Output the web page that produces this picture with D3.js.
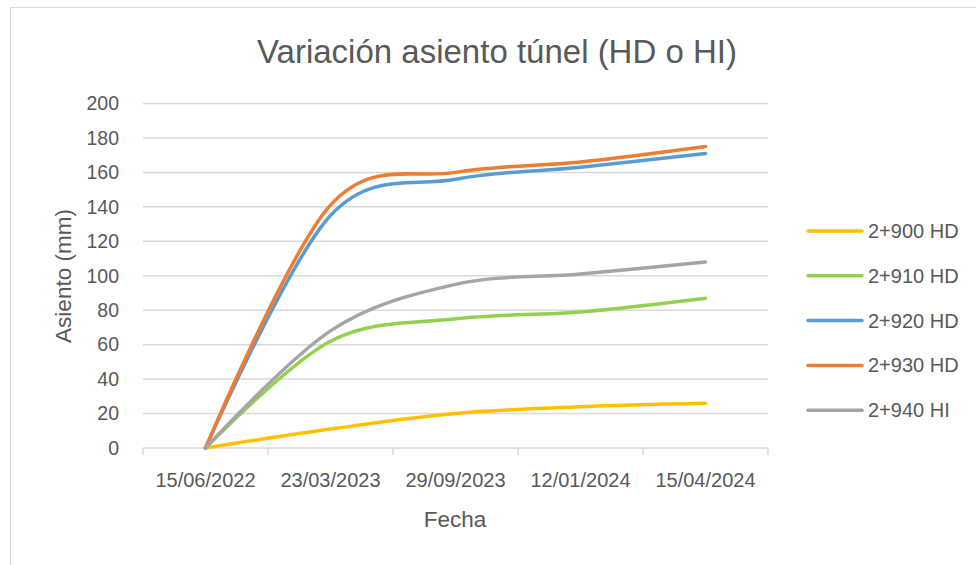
<!DOCTYPE html>
<meta charset="utf-8">
<style>
  body { margin: 0; background: #fff; font-family: "Liberation Sans", sans-serif; }
  text { fill: #595959; }
</style>
<body>
<script src="https://d3js.org/d3.v7.min.js"></script>
<div id="chart"></div>
<script>
  const fechas = ["15/06/2022", "23/03/2023", "29/09/2023", "12/01/2024", "15/04/2024"];
  const s2900 = [0, 11, 20, 24, 26];
  const s2910 = [0, 62, 75, 79, 87];
  const s2920 = [0, 135, 156, 163, 171];
  const s2930 = [0, 141, 160, 166, 175];
  const s2940 = [0, 68, 95, 101, 108];
  const yTicks = [0, 20, 40, 60, 80, 100, 120, 140, 160, 180, 200];

  const series = [
    { name: "2+900 HD", values: s2900, color: "#FFC000" },
    { name: "2+910 HD", values: s2910, color: "#92D050" },
    { name: "2+920 HD", values: s2920, color: "#5B9BD5" },
    { name: "2+930 HD", values: s2930, color: "#ED7D31" },
    { name: "2+940 HI", values: s2940, color: "#A5A5A5" }
  ];

  const W = 976, H = 565;
  const plot = { left: 143, right: 768, top: 103.5, bottom: 448 };

  const svg = d3.select("#chart").append("svg")
    .attr("width", W).attr("height", H);

  // chart frame
  svg.append("rect")
    .attr("x", 10.5).attr("y", 7.5).attr("width", 990).attr("height", 600)
    .attr("fill", "none").attr("stroke", "#d9d9d9");

  const x = d3.scaleBand().domain(fechas).range([plot.left, plot.right]);
  const y = d3.scaleLinear().domain([0, 200]).range([plot.bottom, plot.top]);

  // gridlines
  svg.append("g").selectAll("line")
    .data(yTicks.filter(d => d > 0))
    .join("line")
    .attr("x1", plot.left).attr("x2", plot.right)
    .attr("y1", d => y(d)).attr("y2", d => y(d))
    .attr("stroke", "#d9d9d9").attr("stroke-width", 1.5);

  // y labels
  svg.append("g").selectAll("text")
    .data(yTicks)
    .join("text")
    .attr("x", 119).attr("y", d => y(d))
    .attr("text-anchor", "end").attr("dy", "0.35em")
    .style("font-size", "19.5px")
    .text(d => d);

  // x axis
  const xAxis = svg.append("g");
  xAxis.append("line")
    .attr("x1", plot.left).attr("x2", plot.right)
    .attr("y1", plot.bottom).attr("y2", plot.bottom)
    .attr("stroke", "#d9d9d9").attr("stroke-width", 1.5);
  const bounds = fechas.map(d => x(d)).concat([plot.right]);
  xAxis.selectAll(".tick")
    .data(bounds)
    .join("line")
    .attr("x1", d => d).attr("x2", d => d)
    .attr("y1", plot.bottom).attr("y2", plot.bottom + 7)
    .attr("stroke", "#d9d9d9").attr("stroke-width", 1.5);
  xAxis.selectAll("text")
    .data(fechas)
    .join("text")
    .attr("x", d => x(d) + x.bandwidth() / 2)
    .attr("y", 487)
    .attr("text-anchor", "middle")
    .style("font-size", "20px")
    .text(d => d);

  // lines
  const line = d3.line()
    .x((d, i) => x(fechas[i]) + x.bandwidth() / 2)
    .y(d => y(d))
    .curve(d3.curveCardinal.tension(0));

  svg.append("g").selectAll("path")
    .data(series)
    .join("path")
    .attr("d", d => line(d.values))
    .attr("fill", "none")
    .attr("stroke", d => d.color)
    .attr("stroke-width", 3.5)
    .attr("stroke-linecap", "round")
    .attr("stroke-linejoin", "round");

  // titles
  svg.append("text")
    .attr("x", 497).attr("y", 63)
    .attr("text-anchor", "middle")
    .style("font-size", "33px")
    .text("Variación asiento túnel (HD o HI)");

  svg.append("text")
    .attr("x", 455).attr("y", 527)
    .attr("text-anchor", "middle")
    .style("font-size", "22.5px")
    .text("Fecha");

  svg.append("text")
    .attr("transform", "translate(71,276) rotate(-90)")
    .attr("text-anchor", "middle")
    .style("font-size", "22.5px")
    .text("Asiento (mm)");

  // legend
  const legend = svg.append("g").selectAll("g")
    .data(series)
    .join("g")
    .attr("transform", (d, i) => `translate(808,${231 + i * 44.8})`);
  legend.append("line")
    .attr("x1", 0).attr("x2", 54)
    .attr("stroke", d => d.color)
    .attr("stroke-width", 3.5)
    .attr("stroke-linecap", "round");
  legend.append("text")
    .attr("x", 60).attr("dy", "0.35em")
    .style("font-size", "20px")
    .text(d => d.name);
</script>
</body>
